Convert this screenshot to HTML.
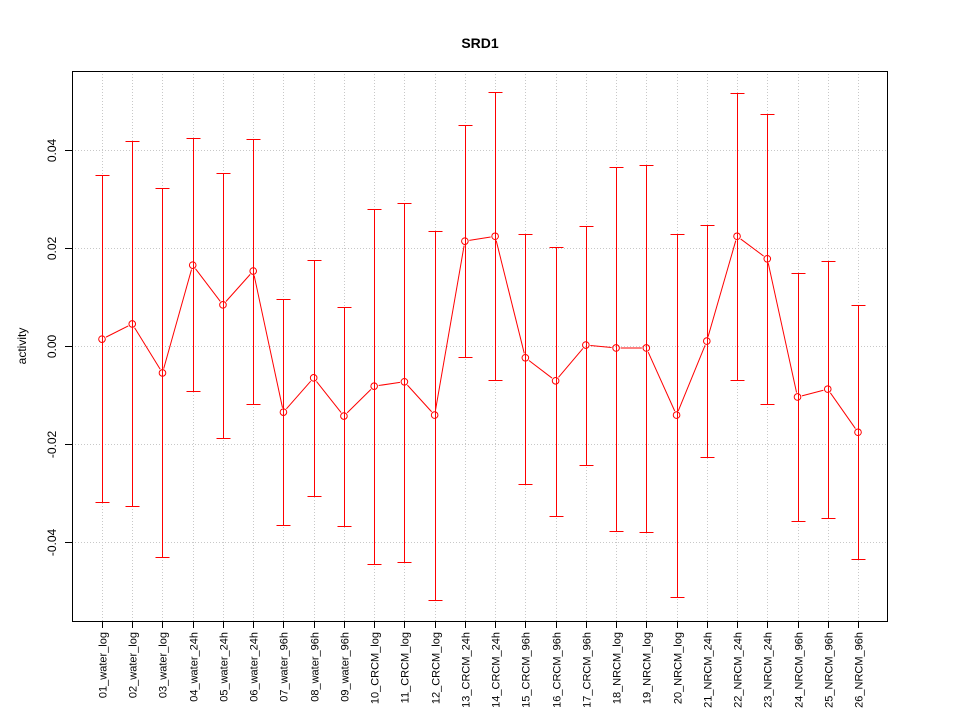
<!DOCTYPE html>
<html><head><meta charset="utf-8"><style>
html,body{margin:0;padding:0;background:#fff;}
svg text{font-family:"Liberation Sans",Arial,sans-serif;}
</style></head><body>
<svg id="chart" width="960" height="720" xmlns="http://www.w3.org/2000/svg">
<text x="480" y="48" text-anchor="middle" font-size="14" font-weight="bold">SRD1</text>
<text x="0" y="0" transform="translate(26,346) rotate(-90)" text-anchor="middle" font-size="12">activity</text>
<g id="grid"></g>
<g id="bars"></g>
<g id="series"></g>
<g id="axes"></g>
<rect x="72.5" y="71.5" width="815" height="550" fill="none" stroke="#000"/>
</svg>
<script>
const categories=["01_water_log","02_water_log","03_water_log","04_water_24h","05_water_24h","06_water_24h","07_water_96h","08_water_96h","09_water_96h","10_CRCM_log","11_CRCM_log","12_CRCM_log","13_CRCM_24h","14_CRCM_24h","15_CRCM_96h","16_CRCM_96h","17_CRCM_96h","18_NRCM_log","19_NRCM_log","20_NRCM_log","21_NRCM_24h","22_NRCM_24h","23_NRCM_24h","24_NRCM_96h","25_NRCM_96h","26_NRCM_96h"];
const means=[0.0014,0.0045,-0.0055,0.0165,0.0084,0.0153,-0.0135,-0.0065,-0.0143,-0.0082,-0.0073,-0.0141,0.0214,0.0224,-0.0024,-0.0071,0.0002,-0.0004,-0.0004,-0.0141,0.0010,0.0224,0.0178,-0.0104,-0.0088,-0.0176];
const uppers=[0.0349,0.0418,0.0322,0.0424,0.0353,0.0422,0.0096,0.0176,0.0080,0.0280,0.0292,0.0235,0.0451,0.0518,0.0229,0.0202,0.0245,0.0365,0.0369,0.0229,0.0247,0.0516,0.0473,0.0149,0.0173,0.0084];
const lowers=[-0.0318,-0.0327,-0.0431,-0.0092,-0.0188,-0.0118,-0.0365,-0.0306,-0.0367,-0.0445,-0.0441,-0.0518,-0.0022,-0.0069,-0.0282,-0.0347,-0.0243,-0.0378,-0.0380,-0.0512,-0.0227,-0.0069,-0.0118,-0.0357,-0.0351,-0.0435];
const yTicks=[-0.04,-0.02,0,0.02,0.04];
const yTickLabels=["-0.04","-0.02","0.00","0.02","0.04"];

const NS="http://www.w3.org/2000/svg";
const xScale=i=>102+i*(858-102)/(categories.length-1);
const yScale=v=>346-v*4900;
const px=v=>Math.round(v)+0.5;
function mk(tag,attrs,parent){const e=document.createElementNS(NS,tag);for(const k in attrs)e.setAttribute(k,attrs[k]);parent.appendChild(e);return e;}
const grid=document.getElementById('grid'),bars=document.getElementById('bars'),series=document.getElementById('series'),axes=document.getElementById('axes');

categories.forEach((c,i)=>{
  const x=px(xScale(i));
  const g=mk('line',{x1:x,x2:x,y1:71,y2:621,stroke:'#c8c8c8','stroke-dasharray':'1,2'},grid);
  
  
  const t=mk('line',{x1:x,x2:x,y1:621,y2:628,stroke:'#000'},axes);
  
  
  const lb=mk('text',{transform:`translate(${x+4},632) rotate(-90)`,'text-anchor':'end','font-size':'11'},axes);
  lb.textContent=c;
  
  
  const yu=px(yScale(uppers[i])),yl=px(yScale(lowers[i]));
  const b=mk('path',{d:`M${x},${yu}V${yl}M${x-7},${yu}H${x+7}M${x-7},${yl}H${x+7}`,stroke:'#ff0000',fill:'none','stroke-width':1},bars);
  
  
});
yTicks.forEach((v,i)=>{
  const y=px(yScale(v));
  const g=mk('line',{x1:72,x2:888,y1:y,y2:y,stroke:'#c8c8c8','stroke-dasharray':'1,2'},grid);
  
  
  const t=mk('line',{x1:65,x2:72,y1:y,y2:y,stroke:'#000'},axes);
  
  
  const lb=mk('text',{transform:`translate(56,${y}) rotate(-90)`,'text-anchor':'middle','font-size':'12'},axes);
  lb.textContent=yTickLabels[i];
  
  
});
for(let i=0;i<means.length-1;i++){
  const x1=xScale(i),y1=yScale(means[i]),x2=xScale(i+1),y2=yScale(means[i+1]);
  const dx=x2-x1,dy=y2-y1,L=Math.hypot(dx,dy),g=4.5;
  if(L<=2*g) continue;
  const s=mk('line',{x1:x1+dx*g/L,y1:y1+dy*g/L,x2:x2-dx*g/L,y2:y2-dy*g/L,stroke:'#ff0000'},series);
  
  
}
means.forEach((m,i)=>{
  const c=mk('circle',{cx:xScale(i),cy:yScale(m),r:3.3,fill:'none',stroke:'#ff0000'},series);
  
  
});
</script>
</body></html>
